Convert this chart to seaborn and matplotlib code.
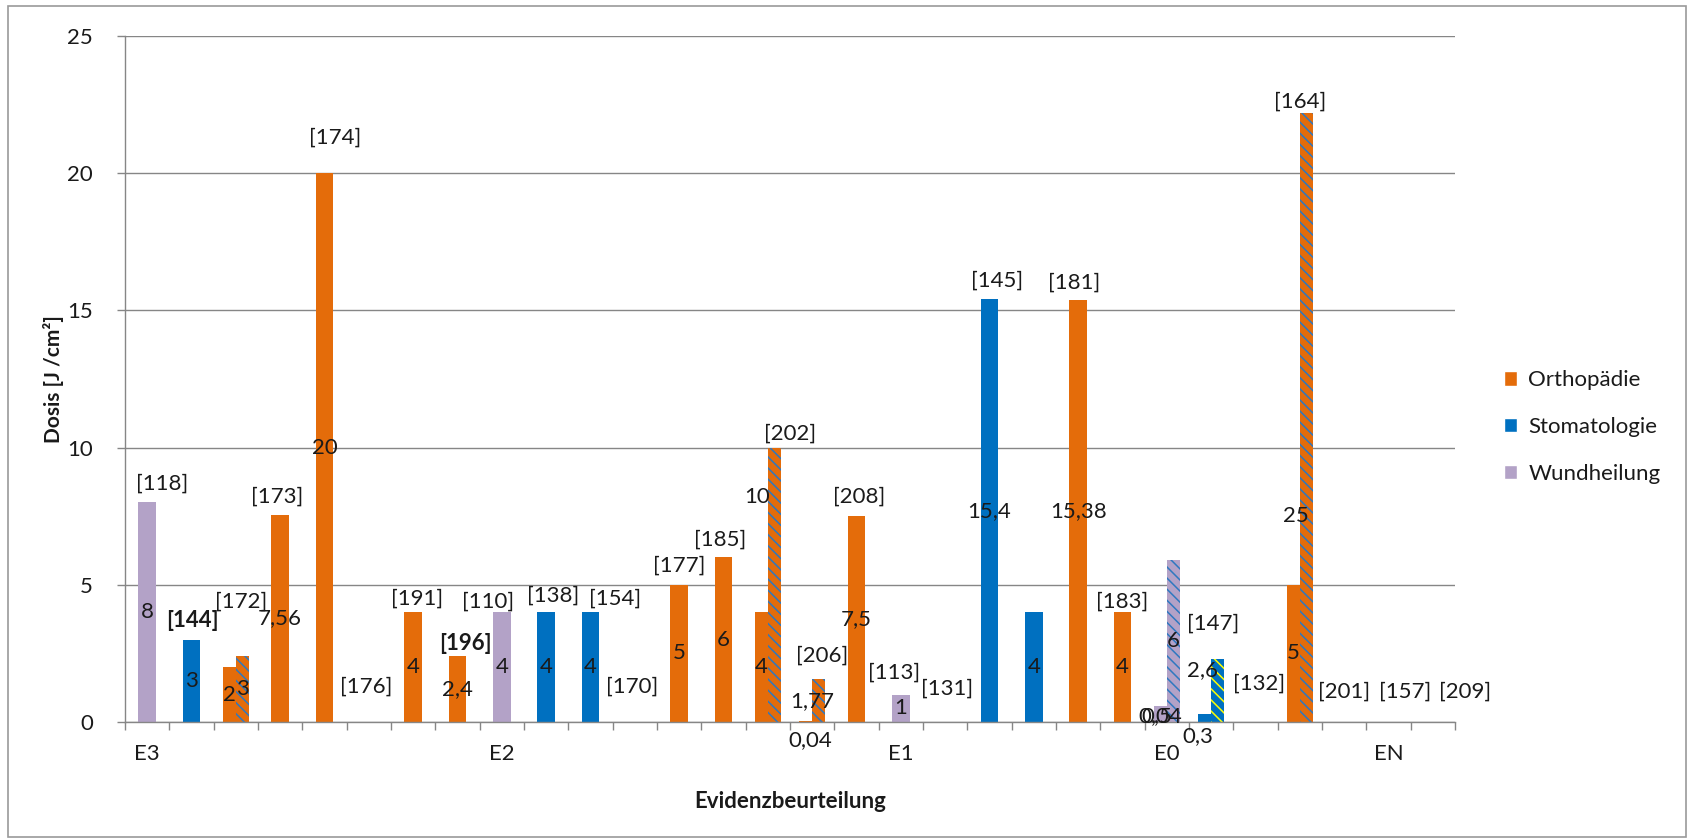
import matplotlib
matplotlib.use("Agg")
import matplotlib.pyplot as plt
from matplotlib.patches import Patch, Rectangle
import pandas as pd
import seaborn as sns

# ---- data ---------------------------------------------------------------
FAECHER = ["Orthopädie", "Stomatologie", "Wundheilung"]

# 30 category slots on the x axis, only a few carry a label
EVIDENZ = (["E3"] + [""] * 7 + ["E2"] + [""] * 8 + ["E1"] + [""] * 5
           + ["E0"] + [""] * 4 + ["EN", ""])

# single (plain) bars
EINZEL_SLOT = [0, 1, 3, 4, 6, 7, 8, 9, 10, 12, 13, 16, 17, 19, 20, 21, 22]
EINZEL_FACH = ["Wundheilung", "Stomatologie", "Orthopädie", "Orthopädie",
               "Orthopädie", "Orthopädie", "Wundheilung", "Stomatologie",
               "Stomatologie", "Orthopädie", "Orthopädie", "Orthopädie",
               "Wundheilung", "Stomatologie", "Stomatologie", "Orthopädie",
               "Orthopädie"]
EINZEL_DOSIS = [8, 3, 7.56, 20, 4, 2.4, 4, 4, 4, 5, 6, 7.5, 1, 15.4, 4, 15.38, 4]
EINZEL_TEXT = ["8", "3", "7,56", "20", "4", "2,4", "4", "4", "4", "5", "6",
               "7,5", "1", "15,4", "4", "15,38", "4"]

# paired bars: plain minimum + hatched maximum
PAAR_SLOT = [2, 14, 15, 23, 24, 26]
PAAR_FACH = ["Orthopädie", "Orthopädie", "Orthopädie", "Wundheilung",
             "Stomatologie", "Orthopädie"]
PAAR_MIN = [2, 4, 0.04, 0.6, 0.3, 5]
PAAR_MIN_TEXT = ["2", "4", "0,04", "0,04", "0,3", "5"]
PAAR_MAX = [2.4, 10, 1.55, 5.9, 2.3, 22.2]
PAAR_MAX_TEXT = ["3", "10", "1,77", "6", "2,6", "25"]

# literature references
REF_SLOT = [0, 1, 2, 3, 4, 5, 6, 7, 8, 9, 10, 11, 12, 13, 14, 15, 16, 17, 18,
            19, 21, 22, 24, 25, 26, 27, 28, 29]
REF_TEXT = ["[118]", "[144]", "[172]", "[173]", "[174]", "[176]", "[191]",
            "[196]", "[110]", "[138]", "[154]", "[170]", "[177]", "[185]",
            "[202]", "[206]", "[208]", "[113]", "[131]", "[145]", "[181]",
            "[183]", "[147]", "[132]", "[164]", "[201]", "[157]", "[209]"]
REF_FETT = ["[144]", "[196]"]

# ---- styling / layout ---------------------------------------------------
FARBEN = {"Orthopädie": "#E46C0A", "Stomatologie": "#0070C0",
          "Wundheilung": "#B3A2C7"}
HATCH_FARBEN = {"Orthopädie": "#2E78C0", "Stomatologie": "#FFFF00",
                "Wundheilung": "#2E78C0"}
GRAU = "#868686"
TEXT = "#1a1a1a"
FS = 16

# label nudges for the references: (dx in slots, gap above highest bar)
REF_DX = [0.34, 0.03, 0.13, -0.07, 0.23, -0.05, 0.09, 0.17, -0.32, 0.16, 0.56,
          -0.05, 0.0, -0.08, 0.5, 0.22, 0.07, -0.16, 0.05, 0.16, -0.09, 0.0,
          0.05, 0.07, 0.0, 0.0, 0.38, 0.72]
REF_DY = [0.7, 0.7, 2.0, 0.64, 1.3, 1.3, 0.5, 0.45, 0.4, 0.6, 0.5, 1.3, 0.7,
          0.65, 0.5, 0.85, 0.7, 0.8, 1.2, 0.7, 0.62, 0.4, 1.3, 1.4, 0.4, 1.1,
          1.1, 1.1]
# value labels placed by hand in the original: (slot, part) -> (dx, y)
WERT_POS = {(14, "max"): (-0.4, 8.2), (15, "min"): (0.1, -0.65),
            (15, "max"): (-0.15, None), (23, "min"): (0.0, 0.2),
            (24, "min"): (-0.14, -0.5), (24, "max"): (-0.35, 1.9),
            (26, "max"): (-0.24, 7.5)}

sns.set_style("white")
plt.rcParams["font.family"] = ["Lato", "DejaVu Sans"]
plt.rcParams["hatch.linewidth"] = 1.1

fig = plt.figure(figsize=(16.93, 8.40), dpi=100)
ax = fig.add_axes([125 / 1693, 1 - 722 / 840, 1330 / 1693, 686 / 840])

slots = [str(i) for i in range(len(EVIDENZ))]

einzel = pd.DataFrame({"slot": [str(s) for s in EINZEL_SLOT],
                       "fach": EINZEL_FACH, "dosis": EINZEL_DOSIS})
sns.barplot(data=einzel, x="slot", y="dosis", hue="fach", order=slots,
            hue_order=FAECHER, palette=FARBEN, dodge=False, width=0.4,
            saturation=1, errorbar=None, legend=False, linewidth=0, ax=ax)
for s, v, t in zip(EINZEL_SLOT, EINZEL_DOSIS, EINZEL_TEXT):
    ax.text(s, v / 2, t, ha="center", va="center", fontsize=FS, color=TEXT,
            zorder=5)

paar = pd.DataFrame({"slot": [str(s) for s in PAAR_SLOT] * 2,
                     "teil": ["min"] * len(PAAR_SLOT) + ["max"] * len(PAAR_SLOT),
                     "dosis": PAAR_MIN + PAAR_MAX})
n_vorher = len(ax.patches)
sns.barplot(data=paar, x="slot", y="dosis", hue="teil", order=slots,
            hue_order=["min", "max"], dodge=True, width=0.6, gap=0,
            saturation=1, errorbar=None, legend=False, linewidth=0, ax=ax)
for p in ax.patches[n_vorher:]:
    xc = p.get_x() + p.get_width() / 2
    s = int(round(xc))
    i = PAAR_SLOT.index(s)
    fach = PAAR_FACH[i]
    p.set_facecolor(FARBEN[fach])
    teil = "max" if xc > s else "min"
    if teil == "max":
        p.set_hatch("\\\\\\")
        p.set_edgecolor(HATCH_FARBEN[fach])
        p.set_linewidth(0)
        text = PAAR_MAX_TEXT[i]
    else:
        text = PAAR_MIN_TEXT[i]
    dx, y = WERT_POS.get((s, teil), (0.0, None))
    if y is None:
        y = p.get_height() / 2
    ax.text(xc + dx, y, text, ha="center", va="center", fontsize=FS,
            color=TEXT, zorder=5, clip_on=False)
# overlapping second label at E0
ax.text(23 - 0.22, 0.2, "0,5", ha="center", va="center", fontsize=FS,
        color=TEXT, zorder=5)

# reference labels above the bars
hoehe = {}
for s, v in zip(EINZEL_SLOT, EINZEL_DOSIS):
    hoehe[s] = max(hoehe.get(s, 0), v)
for s, a, b in zip(PAAR_SLOT, PAAR_MIN, PAAR_MAX):
    hoehe[s] = max(hoehe.get(s, 0), a, b)
for s, t, dx, dy in zip(REF_SLOT, REF_TEXT, REF_DX, REF_DY):
    ax.text(s + dx, hoehe.get(s, 0) + dy, t, ha="center", va="center",
            fontsize=FS, color=TEXT, zorder=5, clip_on=False,
            fontweight="bold" if t in REF_FETT else "normal")

# axes
ax.set_ylim(0, 25)
ax.set_yticks(range(0, 26, 5))
ax.set_xlim(-0.5, len(EVIDENZ) - 0.5)
ax.set_xticks([i - 0.5 for i in range(len(EVIDENZ) + 1)])
ax.set_xticklabels([])
ax.set_xticks(range(len(EVIDENZ)), minor=True)
ax.set_xticklabels(EVIDENZ, minor=True)
ax.tick_params(axis="x", which="major", length=6, width=1, color=GRAU,
               direction="out", bottom=True)
ax.tick_params(axis="x", which="minor", length=0, pad=16, labelsize=FS,
               labelcolor=TEXT, bottom=True)
ax.tick_params(axis="y", length=6, width=1, color=GRAU, direction="out",
               pad=17, labelsize=FS, labelcolor=TEXT, left=True)
ax.yaxis.grid(True, color=GRAU, linewidth=1)
ax.set_axisbelow(True)
for side in ["top", "right"]:
    ax.spines[side].set_visible(False)
for side in ["left", "bottom"]:
    ax.spines[side].set_color(GRAU)
    ax.spines[side].set_linewidth(1)

ax.set_xlabel("Evidenzbeurteilung", fontsize=FS, fontweight="bold", color=TEXT)
ax.xaxis.set_label_coords(0.5, -0.10)
ax.set_ylabel("Dosis [J /cm²]", fontsize=FS - 1, fontweight="bold", color=TEXT)
ax.yaxis.set_label_coords(-0.046, 0.5)

handles = [Patch(facecolor=FARBEN[f], label=f) for f in FAECHER]
fig.legend(handles=handles, loc="center left",
           bbox_to_anchor=(1484 / 1693, 1 - 427 / 840), frameon=False,
           fontsize=FS, handlelength=0.6, handleheight=0.6,
           handletextpad=0.5, labelspacing=1.2, labelcolor=TEXT)

fig.patches.append(Rectangle((8 / 1693, 3 / 840), 1678 / 1693, 831 / 840,
                             transform=fig.transFigure, fill=False,
                             edgecolor="#9a9a9a", linewidth=1.2))

fig.savefig("out.png", dpi=100)
